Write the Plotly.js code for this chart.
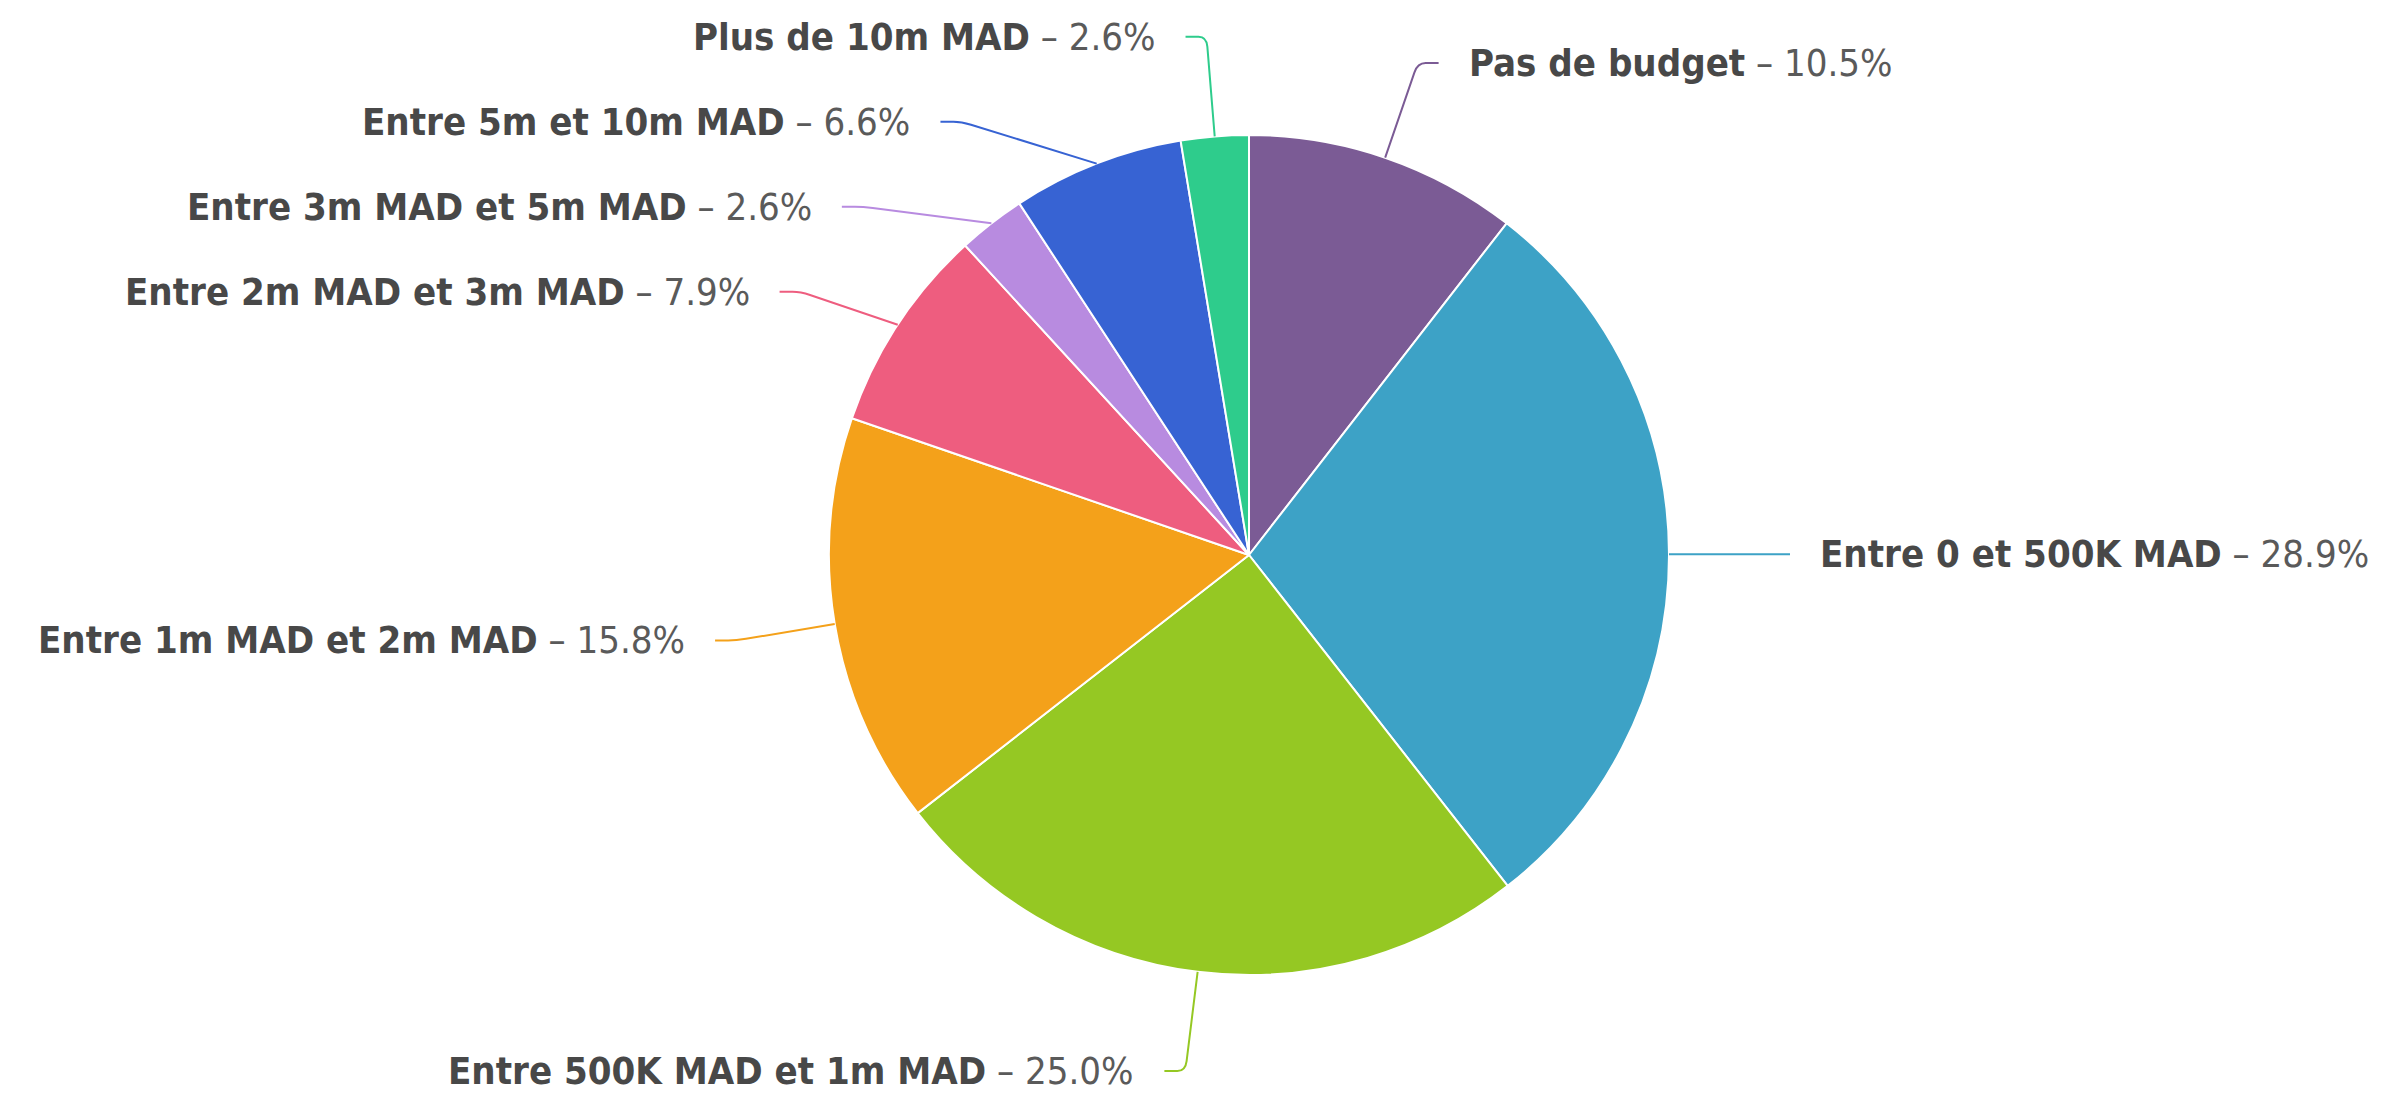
<!DOCTYPE html>
<html>
<head>
<meta charset="utf-8">
<script src="https://cdn.plot.ly/plotly-3.0.1.min.js"></script>
<style>html,body{margin:0;padding:0;background:#fff;}#chart{width:2382px;height:1104px;}</style>
</head>
<body>
<div id="chart"></div>
<script>
// ---- data ----
const categories = [
  "Pas de budget",
  "Entre 0 et 500K MAD",
  "Entre 500K MAD et 1m MAD",
  "Entre 1m MAD et 2m MAD",
  "Entre 2m MAD et 3m MAD",
  "Entre 3m MAD et 5m MAD",
  "Entre 5m et 10m MAD",
  "Plus de 10m MAD"
];
const shares = [10.5, 28.9, 25.0, 15.8, 7.9, 2.6, 6.6, 2.6];
const sliceColors = ["#7b5b95", "#3da2c6", "#95c823", "#f4a11a", "#ee5d7f", "#b88be0", "#3763d3", "#2ecc8c"];

// ---- layout constants ----
const W = 2382, H = 1104;
const CX = 1249, CY = 555, RAD = 420;      // pie centre / radius in px
const LABEL_R = 520, GAP = 85, TOP = 34, BOTTOM = 1078;
const FONT = '"DejaVu Sans Condensed", "Liberation Sans", Arial, sans-serif';

const total = shares.reduce((a, b) => a + b, 0);
let cum = 0;
const items = shares.map((v, i) => {
  const mid = (cum + v / 2) / total;
  cum += v;
  const th = mid * 2 * Math.PI;
  const side = Math.sin(th) >= 0 ? 1 : -1;
  return {
    i, th, side,
    ex: CX + RAD * Math.sin(th),
    ey: CY - RAD * Math.cos(th),
    y: CY - LABEL_R * Math.cos(th)
  };
});

// simple collision avoidance per side
[1, -1].forEach(s => {
  const grp = items.filter(it => it.side === s).sort((a, b) => a.y - b.y);
  grp.forEach(it => { it.y = Math.min(Math.max(it.y, TOP), BOTTOM); });
  for (let k = 1; k < grp.length; k++) grp[k].y = Math.max(grp[k].y, grp[k - 1].y + GAP);
  if (grp.length && grp[grp.length - 1].y > BOTTOM) {
    grp[grp.length - 1].y = BOTTOM;
    for (let k = grp.length - 2; k >= 0; k--) grp[k].y = Math.min(grp[k].y, grp[k + 1].y - GAP);
  }
});

const px = x => x / W, py = y => 1 - y / H;
const shapes = [], annotations = [];
items.forEach(it => {
  const dy = it.y - CY;
  const x = CX + it.side * Math.sqrt(Math.max(0, LABEL_R * LABEL_R - dy * dy));
  const endX = x + it.side * 21;
  // soft corner
  const vx = it.ex - x, vy = it.ey - it.y;
  const len = Math.hypot(vx, vy) || 1;
  const pX = x + vx / len * 10, pY = it.y + vy / len * 10;
  const qX = x + it.side * 8;
  const path = `M ${px(it.ex)},${py(it.ey)} L ${px(pX)},${py(pY)} Q ${px(x)},${py(it.y)} ${px(qX)},${py(it.y)} L ${px(endX)},${py(it.y)}`;
  shapes.push({type: 'path', xref: 'paper', yref: 'paper', path,
    line: {color: sliceColors[it.i], width: 2}, layer: 'above'});
  annotations.push({
    xref: 'paper', yref: 'paper',
    x: px(x + it.side * 49), y: py(it.y),
    xanchor: it.side > 0 ? 'left' : 'right', yanchor: 'middle',
    showarrow: false,
    text: `<b>${categories[it.i]}</b><span style="color:#5a5a5a"> – ${shares[it.i].toFixed(1)}%</span>`,
    font: {family: FONT, size: 38, color: '#484848'}
  });
});

const data = [{
  type: 'pie',
  labels: categories,
  values: shares,
  sort: false,
  direction: 'clockwise',
  rotation: 0,
  textinfo: 'none',
  hoverinfo: 'label+percent',
  marker: {colors: sliceColors, line: {color: '#ffffff', width: 2}},
  domain: {x: [px(CX - RAD), px(CX + RAD)], y: [py(CY + RAD), py(CY - RAD)]}
}];

const layout = {
  width: W, height: H,
  margin: {l: 0, r: 0, t: 0, b: 0},
  showlegend: false,
  paper_bgcolor: '#ffffff',
  font: {family: FONT},
  shapes, annotations
};

Plotly.newPlot('chart', data, layout, {displayModeBar: false, staticPlot: true});
</script>
</body>
</html>
